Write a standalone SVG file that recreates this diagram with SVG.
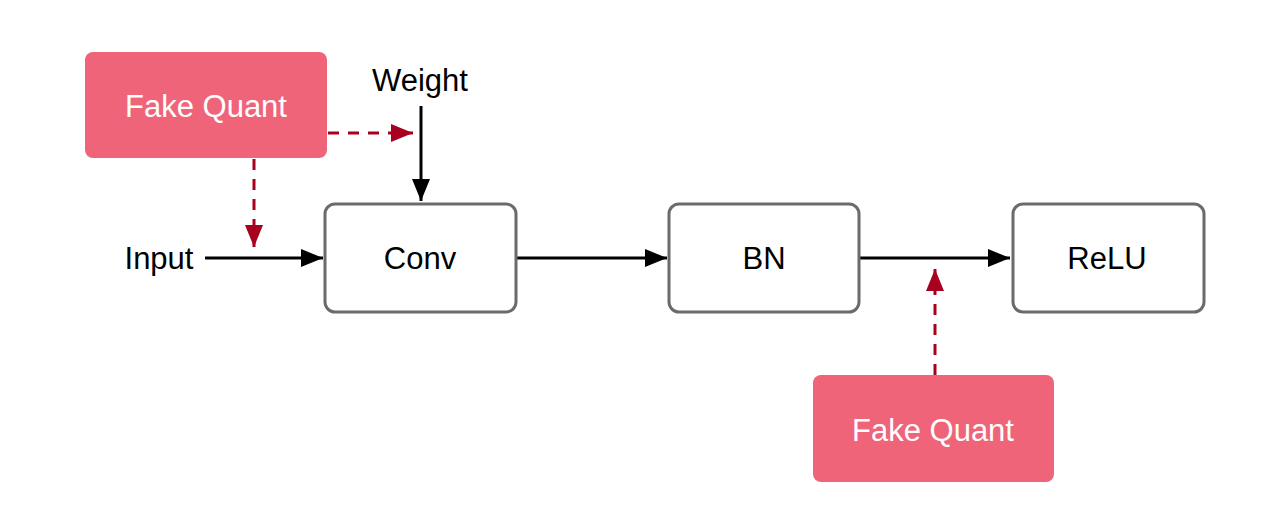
<svg xmlns="http://www.w3.org/2000/svg" width="1276" height="512" viewBox="0 0 1276 512">
<style>
.box{fill:#fff;stroke:#6b6b6b;stroke-width:3}
.fq{fill:#ef6479}
.t{font-family:"Liberation Sans",Arial,sans-serif;font-size:31px;text-anchor:middle;fill:#000}
.tw{font-family:"Liberation Sans",Arial,sans-serif;font-size:31px;text-anchor:middle;fill:#fff}
.e{fill:none;stroke:#000;stroke-width:3}
.d{fill:none;stroke:#a8001f;stroke-width:3;stroke-dasharray:11 9}
</style>
<defs>
<marker id="ab" markerUnits="userSpaceOnUse" markerWidth="22" markerHeight="18" refX="22" refY="9" orient="auto"><path d="M0,0 L22,9 L0,18 Z" fill="#000"/></marker>
<marker id="ar" markerUnits="userSpaceOnUse" markerWidth="22" markerHeight="18" refX="22" refY="9" orient="auto"><path d="M0,0 L22,9 L0,18 Z" fill="#a8001f"/></marker>
</defs>
<rect width="1276" height="512" fill="#fff"/>
<g id="connectors">
<line class="e" x1="205" y1="258" x2="323" y2="258" marker-end="url(#ab)"/>
<line class="e" x1="421" y1="106" x2="421" y2="201" marker-end="url(#ab)"/>
<line class="e" x1="517" y1="258" x2="667" y2="258" marker-end="url(#ab)"/>
<line class="e" x1="860" y1="258" x2="1010" y2="258" marker-end="url(#ab)"/>
<line class="d" x1="328" y1="133" x2="413" y2="133" marker-end="url(#ar)"/>
<line class="d" x1="254" y1="159" x2="254" y2="247" marker-end="url(#ar)"/>
<line class="d" x1="935" y1="375" x2="935" y2="269" marker-end="url(#ar)"/>
</g>
<g id="fq1"><rect class="fq" x="85" y="52" width="242" height="106" rx="8"/><text class="tw" x="206" y="117">Fake Quant</text></g>
<g id="weight"><text class="t" x="420" y="91">Weight</text></g>
<g id="input"><text class="t" x="159" y="269">Input</text></g>
<g id="conv"><rect class="box" x="325" y="204" width="191" height="108" rx="10"/><text class="t" x="420" y="269">Conv</text></g>
<g id="bn"><rect class="box" x="669" y="204" width="190" height="108" rx="10"/><text class="t" x="764" y="269">BN</text></g>
<g id="relu"><rect class="box" x="1013" y="204" width="191" height="108" rx="10"/><text class="t" x="1107" y="269">ReLU</text></g>
<g id="fq2"><rect class="fq" x="813" y="375" width="241" height="107" rx="8"/><text class="tw" x="933" y="441">Fake Quant</text></g>
</svg>
